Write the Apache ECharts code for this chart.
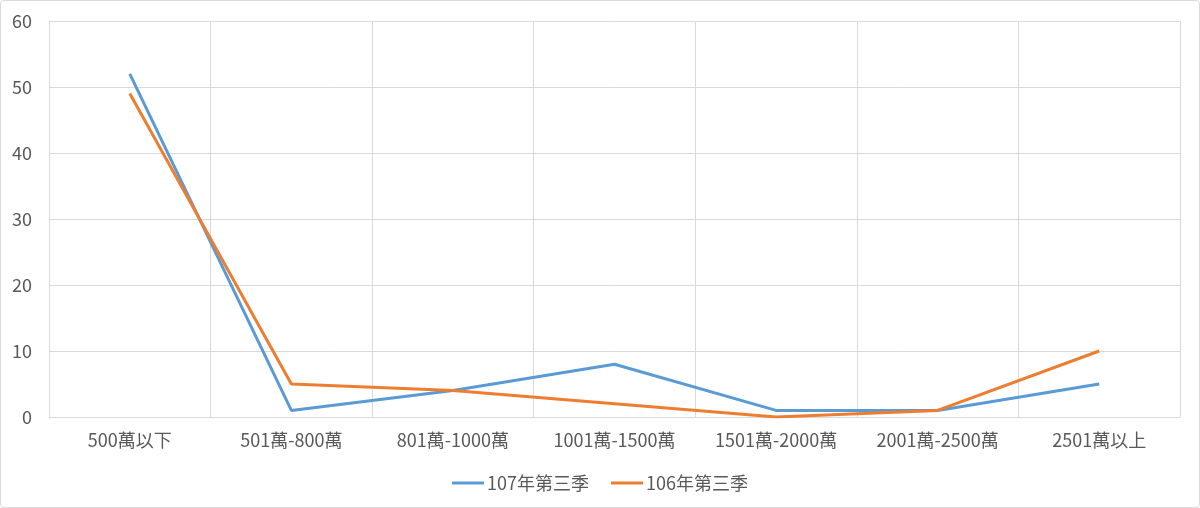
<!DOCTYPE html>
<html><head><meta charset="utf-8">
<script src="https://cdn.jsdelivr.net/npm/echarts@6/dist/echarts.min.js"></script>
<style>
html,body{margin:0;padding:0;background:#fff;}
#c{position:absolute;left:0;top:0;width:1198px;height:506px;border:1px solid #d9d9d9;border-radius:4px;}
</style></head>
<body><div id="c"></div>
<script>
const categories = ['500萬以下','501萬-800萬','801萬-1000萬','1001萬-1500萬','1501萬-2000萬','2001萬-2500萬','2501萬以上'];
const s107 = [52, 1, 4, 8, 1, 1, 5];
const s106 = [49, 5, 4, 2, 0, 1, 10];
const yTicks = {min: 0, max: 60, interval: 10};
const names = ['107年第三季','106年第三季'];

const font = '"Noto Sans CJK TC", "Noto Sans", sans-serif';
const chart = echarts.init(document.getElementById('c'));
chart.setOption({
  animation: false,
  color: ['#5B9BD5', '#ED7D31'],
  grid: {left: 48, right: 19, top: 20, bottom: 90},
  legend: {
    bottom: 10, left: 'center',
    itemWidth: 32, itemHeight: 3, itemGap: 22,
    icon: 'rect',
    textStyle: {color: '#595959', fontSize: 18, fontFamily: font, padding: [0, 0, 0, -2]},
    data: names
  },
  xAxis: {
    type: 'category', data: categories, boundaryGap: true,
    axisLine: {lineStyle: {color: '#d9d9d9'}},
    axisTick: {show: false},
    splitLine: {show: true, lineStyle: {color: '#d9d9d9'}},
    axisLabel: {color: '#595959', fontSize: 18, fontFamily: font, margin: 14, interval: 0}
  },
  yAxis: {
    type: 'value', min: yTicks.min, max: yTicks.max, interval: yTicks.interval,
    axisLine: {show: false}, axisTick: {show: false},
    splitLine: {lineStyle: {color: '#d9d9d9'}},
    axisLabel: {color: '#595959', fontSize: 18, fontFamily: font, margin: 17}
  },
  series: [
    {name: names[0], type: 'line', data: s107, symbol: 'none', lineStyle: {width: 3}},
    {name: names[1], type: 'line', data: s106, symbol: 'none', lineStyle: {width: 3}}
  ]
});
</script></body></html>
